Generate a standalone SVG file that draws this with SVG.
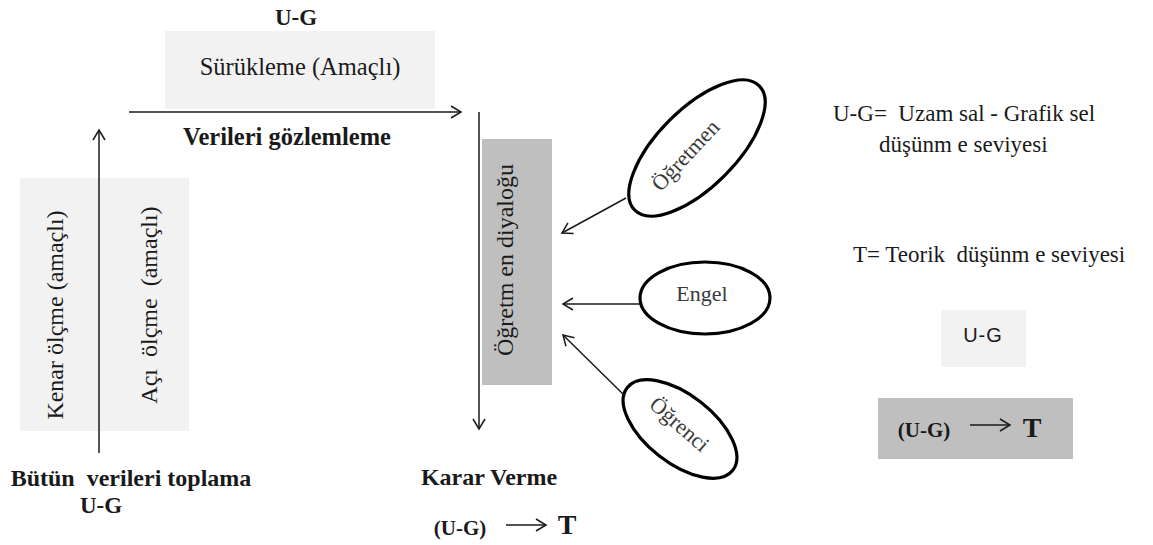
<svg xmlns="http://www.w3.org/2000/svg" width="1153" height="545" viewBox="0 0 1153 545">
<style>
text{white-space:pre}
.t{font-family:"Liberation Serif","Times New Roman",serif;fill:#1a1a1a}
.b{font-weight:bold}
.lbox{fill:#f2f2f2}
.dbox{fill:#bfbfbf}
.ln{stroke:#1a1a1a;stroke-width:1.5;fill:none}
.el{fill:#fff;stroke:#000;stroke-width:3.2}
.et{font-family:"Liberation Serif","Times New Roman",serif;fill:#3a3a3a;font-size:22px}
</style>
<defs>
<marker id="ah" markerUnits="userSpaceOnUse" markerWidth="16" markerHeight="16" refX="11" refY="7" orient="auto" viewBox="0 0 16 14">
<path d="M1,1 L11,7 L1,13" fill="none" stroke="#1a1a1a" stroke-width="1.5"/>
</marker>
</defs>

<g id="node-surukleme">
<rect class="lbox" x="165" y="31" width="270" height="78"/>
<text class="t" x="300" y="75" font-size="24.5" text-anchor="middle">Sürükleme (Amaçlı)</text>
</g>
<g id="label-ug-top">
<text class="t b" x="296" y="25" font-size="23" text-anchor="middle">U-G</text>
</g>
<g id="label-verileri">
<text class="t b" x="287" y="145" font-size="24.5" text-anchor="middle">Verileri gözlemleme</text>
</g>

<g id="node-olcme">
<rect class="lbox" x="20" y="178" width="169" height="253"/>
<text class="t" x="63" y="315" font-size="24" text-anchor="middle" transform="rotate(-90 63 315)">Kenar ölçme (amaçlı)</text>
<text class="t" x="157" y="305" font-size="24" text-anchor="middle" transform="rotate(-90 157 305)">Açı  ölçme  (amaçlı)</text>
</g>
<g id="label-butun">
<text class="t b" x="131" y="486" font-size="24" text-anchor="middle">Bütün  verileri toplama</text>
<text class="t b" x="101" y="513" font-size="23" text-anchor="middle">U-G</text>
</g>

<g id="node-diyalog">
<rect class="dbox" x="482" y="139" width="70" height="246"/>
<text class="t" x="513" y="260" font-size="24" text-anchor="middle" transform="rotate(-90 513 260)">Öğretm en diyaloğu</text>
</g>

<g id="node-ogretmen">
<ellipse class="el" cx="697" cy="148" rx="88" ry="39" transform="rotate(-45 697 148)"/>
<text class="et" x="687" y="157" text-anchor="middle" dominant-baseline="middle" transform="rotate(-47 687 157)">Öğretmen</text>
</g>
<g id="node-engel">
<ellipse class="el" cx="705" cy="298" rx="65" ry="36"/>
<text class="et" x="702" y="301" font-size="23" text-anchor="middle">Engel</text>
</g>
<g id="node-ogrenci">
<ellipse class="el" cx="680" cy="429" rx="67" ry="34" transform="rotate(38 680 429)"/>
<text class="et" x="678" y="426" text-anchor="middle" dominant-baseline="middle" transform="rotate(41 678 426)">Öğrenci</text>
</g>

<g id="label-karar">
<text class="t b" x="489" y="485" font-size="24" text-anchor="middle">Karar Verme</text>
<text class="t b" x="460" y="535" font-size="21" text-anchor="middle">(U-G)</text>
<text class="t b" x="567" y="534" font-size="28" text-anchor="middle">T</text>
</g>

<g id="legend">
<text class="t" x="833" y="121" font-size="23">U-G=  Uzam sal - Grafik sel</text>
<text class="t" x="879" y="152" font-size="23">düşünm e seviyesi</text>
<text class="t" x="853" y="262" font-size="23">T= Teorik  düşünm e seviyesi</text>
</g>
<g id="node-ug-legend">
<rect class="lbox" x="941" y="310" width="85" height="57"/>
<text x="983" y="342" font-family="'Liberation Sans',Arial,sans-serif" font-size="20" fill="#1a1a1a" letter-spacing="1" text-anchor="middle">U-G</text>
</g>
<g id="node-ugt-legend">
<rect class="dbox" x="878" y="398" width="195" height="61"/>
<text class="t b" x="924" y="437" font-size="21" text-anchor="middle">(U-G)</text>
<text class="t b" x="1032" y="437" font-size="28" text-anchor="middle">T</text>
</g>

<g id="connectors">
<line class="ln" x1="129" y1="112" x2="461" y2="112" marker-end="url(#ah)"/>
<line class="ln" x1="99" y1="453" x2="99" y2="130" marker-end="url(#ah)"/>
<line class="ln" x1="479" y1="112" x2="479" y2="429" marker-end="url(#ah)"/>
<line class="ln" x1="626" y1="198" x2="562" y2="233" marker-end="url(#ah)"/>
<line class="ln" x1="640" y1="304" x2="563" y2="304" marker-end="url(#ah)"/>
<line class="ln" x1="625" y1="396" x2="563" y2="335" marker-end="url(#ah)"/>
<line class="ln" x1="506" y1="525" x2="546" y2="525" marker-end="url(#ah)"/>
<line class="ln" x1="970" y1="425" x2="1010" y2="425" marker-end="url(#ah)"/>
</g>
</svg>
